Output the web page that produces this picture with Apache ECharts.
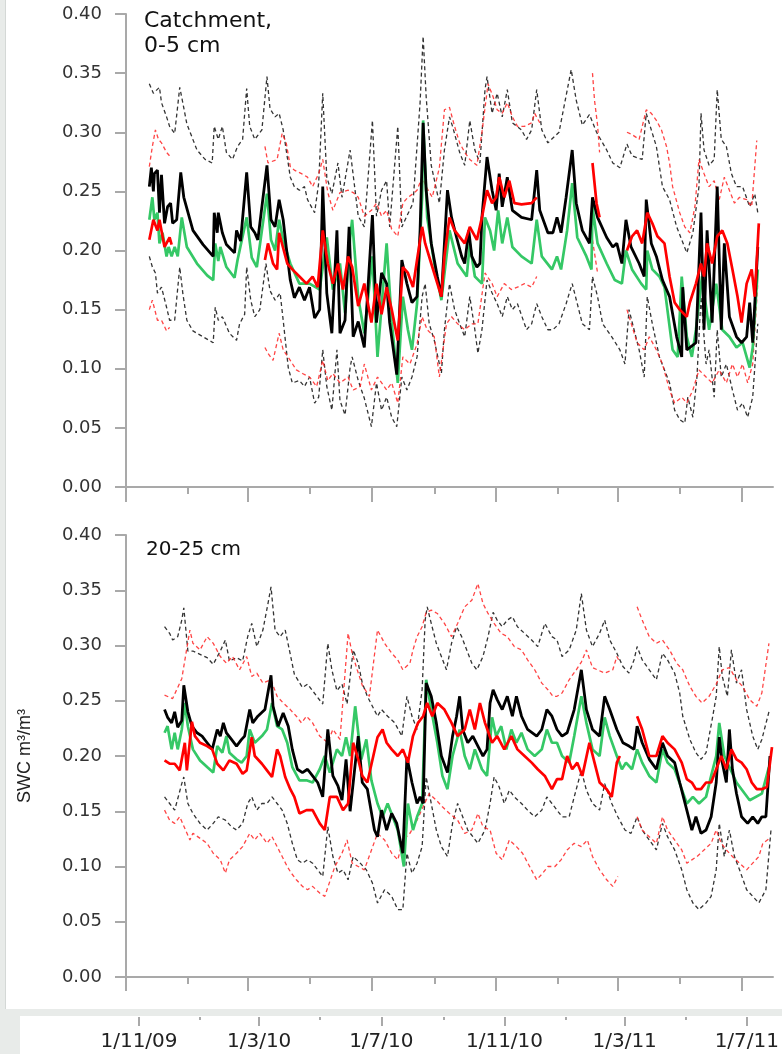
<!DOCTYPE html>
<html><head><meta charset="utf-8">
<script src="https://cdn.jsdelivr.net/npm/echarts@6/dist/echarts.min.js"></script>
<style>
html,body{margin:0;padding:0;background:#e8ebe9;width:782px;height:1054px;overflow:hidden}
#main-bg{position:absolute;left:5px;top:0;width:777px;height:1009px;background:#fff;border-left:1px solid #d4d8d6}
#strip-bg{position:absolute;left:20px;top:1016px;width:762px;height:38px;background:#fff}
#chart{position:absolute;left:0;top:0;width:782px;height:1054px}
</style></head><body>
<div id="main-bg"></div><div id="strip-bg"></div><div id="chart"></div>
<script>
// ---------- axis definitions ----------
const DAY = 86400000;
const T0 = Date.UTC(2009, 10, 1);     // 1/11/09 (day 0)
const TMAX = Date.UTC(2011, 7, 1);    // 1/8/11
const tickMonths = [[2009,11],[2010,1],[2010,3],[2010,5],[2010,7],[2010,9],[2010,11],[2011,1],[2011,3],[2011,5],[2011,7]];
const labelMonths = [[2009,11],[2010,3],[2010,7],[2010,11],[2011,3],[2011,7]];
const yMin = 0, yMax = 0.4, yStep = 0.05;
const panelTitles = ['Catchment,\n0-5 cm', '20-25 cm'];
const yName = 'SWC m³/m³';

// ---------- data: [day since 1/11/09, SWC] ----------
const topBlack = [[23,.254],[25,.270],[27,.250],[28,.265],[31,.268],[33,.232],[35,.264],[38,.223],[41,.237],[44,.240],[46,.223],[50,.226],[54,.266],[57,.245],[66,.217],[76,.205],[86,.195],[87,.232],[90,.215],[91,.232],[95,.215],[99,.205],[107,.198],[109,.217],[113,.208],[119,.266],[123,.220],[127,.215],[130,.209],[139,.272],[143,.226],[147,.220],[151,.243],[155,.226],[158,.203],[162,.175],[166,.160],[171,.169],[176,.158],[181,.169],[186,.143],[191,.150],[194,.254],[198,.164],[203,.130],[208,.217],[211,.130],[216,.141],[220,.220],[224,.127],[229,.140],[235,.118],[243,.230],[247,.139],[252,.181],[257,.172],[260,.139],[267,.095],[272,.192],[277,.172],[282,.156],[287,.161],[290,.217],[293,.308],[296,.251],[301,.206],[307,.178],[311,.161],[314,.206],[317,.251],[321,.228],[326,.211],[331,.195],[334,.189],[338,.217],[341,.195],[346,.186],[349,.189],[351,.228],[356,.279],[361,.251],[365,.234],[368,.265],[371,.237],[376,.262],[381,.234],[390,.228],[400,.226],[405,.268],[408,.234],[416,.215],[421,.215],[425,.228],[429,.215],[434,.245],[440,.285],[444,.240],[450,.217],[457,.206],[460,.245],[465,.228],[474,.211],[480,.203],[484,.206],[489,.189],[493,.226],[498,.203],[506,.189],[511,.178],[513,.243],[518,.206],[523,.195],[529,.175],[536,.161],[543,.127],[548,.110],[549,.169],[553,.116],[562,.122],[567,.232],[570,.133],[573,.217],[578,.139],[583,.254],[587,.133],[590,.206],[595,.144],[602,.127],[607,.122],[612,.127],[615,.156],[618,.122],[623,.203]];
const topGreen = [[23,.226],[26,.245],[28,.226],[31,.232],[33,.206],[36,.215],[40,.195],[42,.203],[45,.195],[48,.203],[51,.195],[55,.228],[60,.203],[70,.189],[80,.179],[86,.175],[88,.206],[91,.191],[93,.203],[99,.186],[107,.177],[110,.192],[119,.228],[124,.194],[129,.186],[139,.248],[143,.209],[147,.200],[151,.226],[155,.209],[162,.189],[171,.172],[181,.172],[191,.167],[198,.211],[204,.167],[211,.189],[216,.147],[221,.211],[223,.226],[229,.160],[235,.130],[243,.195],[248,.110],[257,.206],[262,.140],[268,.088],[273,.161],[278,.133],[282,.116],[287,.155],[292,.245],[293,.310],[297,.228],[304,.189],[311,.158],[316,.195],[319,.217],[327,.189],[336,.178],[339,.206],[344,.178],[351,.172],[354,.228],[359,.217],[363,.200],[367,.234],[371,.206],[376,.228],[381,.203],[390,.195],[400,.189],[405,.226],[410,.195],[420,.184],[425,.195],[429,.184],[435,.217],[440,.257],[445,.211],[454,.195],[459,.184],[460,.237],[465,.206],[474,.189],[482,.175],[489,.172],[493,.200],[499,.184],[508,.172],[513,.167],[514,.200],[519,.184],[526,.178],[531,.169],[539,.116],[544,.110],[548,.178],[553,.127],[558,.110],[562,.133],[568,.178],[575,.133],[582,.172],[588,.133],[595,.127],[602,.118],[608,.122],[615,.101],[618,.118],[623,.184]];
const topRed = [[23,.209],[27,.226],[31,.217],[33,.226],[38,.203],[43,.211],[45,.205],[90,null],[137,.192],[140,.206],[145,.189],[149,.184],[151,.215],[159,.189],[164,.184],[171,.178],[178,.172],[184,.178],[189,.169],[194,.217],[199,.189],[204,.172],[209,.189],[214,.167],[219,.195],[223,.186],[229,.153],[235,.172],[242,.139],[247,.172],[252,.146],[257,.169],[262,.150],[268,.124],[273,.186],[278,.181],[283,.169],[287,.192],[292,.220],[295,.206],[301,.189],[311,.161],[314,.195],[319,.228],[324,.217],[334,.206],[339,.220],[346,.209],[351,.228],[356,.251],[361,.240],[365,.245],[368,.262],[373,.245],[378,.259],[383,.240],[390,.239],[400,.240],[405,.245],[430,null],[460,.274],[464,.240],[467,.228],[480,null],[494,.200],[499,.212],[504,.217],[509,.206],[514,.232],[519,.223],[524,.212],[531,.206],[536,.178],[541,.156],[546,.150],[553,.144],[556,.156],[562,.172],[567,.189],[570,.178],[573,.206],[578,.189],[583,.212],[588,.217],[593,.206],[598,.184],[603,.161],[607,.139],[612,.172],[617,.184],[620,.161],[624,.223]];
const topBlackUp = [[23,.341],[27,.333],[33,.338],[35,.325],[40,.313],[43,.305],[48,.299],[53,.338],[56,.325],[60,.307],[70,.285],[78,.277],[85,.274],[87,.305],[91,.294],[95,.305],[99,.283],[105,.277],[110,.288],[115,.294],[119,.337],[122,.305],[127,.294],[134,.302],[139,.347],[142,.320],[147,.313],[151,.316],[155,.302],[162,.262],[166,.254],[171,.251],[176,.254],[179,.243],[186,.232],[190,.257],[194,.333],[198,.262],[203,.248],[209,.274],[213,.245],[221,.285],[229,.229],[235,.220],[243,.310],[247,.229],[252,.251],[257,.259],[260,.220],[268,.305],[272,.220],[278,.231],[283,.240],[290,.325],[293,.381],[296,.330],[301,.272],[309,.240],[314,.285],[319,.313],[322,.305],[329,.283],[334,.272],[339,.310],[344,.285],[349,.274],[354,.336],[356,.347],[361,.316],[366,.333],[371,.313],[376,.336],[381,.308],[390,.302],[395,.294],[400,.302],[405,.336],[410,.302],[416,.291],[427,.300],[439,.353],[444,.327],[450,.306],[457,.315],[464,.300],[474,.285],[480,.274],[487,.270],[494,.290],[499,.280],[509,.277],[513,.316],[518,.302],[523,.288],[529,.254],[536,.243],[543,.220],[548,.209],[553,.198],[559,.215],[565,.254],[567,.316],[570,.285],[575,.272],[580,.277],[583,.336],[587,.294],[592,.288],[597,.265],[602,.254],[608,.254],[615,.237],[620,.248],[623,.232]];
const topBlackLo = [[23,.195],[26,.186],[29,.181],[31,.164],[35,.169],[40,.152],[43,.141],[48,.141],[53,.186],[56,.164],[60,.141],[66,.132],[76,.127],[86,.122],[88,.152],[91,.141],[95,.144],[102,.130],[109,.124],[112,.138],[117,.146],[119,.186],[123,.158],[127,.144],[132,.150],[138,.189],[142,.166],[147,.158],[152,.164],[155,.141],[160,.101],[164,.088],[171,.090],[176,.085],[181,.093],[186,.071],[190,.076],[194,.116],[198,.085],[203,.065],[208,.116],[211,.073],[216,.061],[221,.101],[223,.110],[229,.090],[235,.075],[242,.051],[247,.088],[252,.065],[257,.076],[262,.059],[267,.051],[272,.093],[277,.082],[282,.093],[287,.110],[292,.161],[295,.172],[299,.138],[304,.124],[311,.096],[314,.133],[319,.172],[324,.150],[329,.138],[334,.127],[339,.161],[344,.133],[347,.113],[351,.133],[356,.175],[361,.164],[366,.155],[371,.144],[376,.161],[381,.150],[386,.155],[395,.133],[400,.138],[405,.155],[410,.144],[416,.133],[421,.133],[427,.138],[434,.155],[440,.172],[445,.155],[450,.138],[457,.133],[460,.178],[465,.161],[470,.138],[479,.127],[487,.116],[492,.104],[496,.150],[501,.133],[506,.116],[511,.093],[514,.161],[519,.138],[526,.110],[531,.099],[536,.088],[541,.065],[546,.057],[551,.054],[554,.076],[559,.059],[563,.093],[567,.161],[572,.104],[575,.116],[580,.076],[583,.133],[587,.093],[592,.104],[598,.082],[603,.065],[608,.071],[613,.059],[618,.076],[623,.138]];
const topRedUp = [[23,.271],[26,.288],[29,.302],[32,.294],[35,.291],[40,.283],[43,.280],[90,null],[137,.288],[140,.274],[149,.277],[154,.299],[158,.291],[162,.271],[166,.268],[173,.265],[179,.262],[184,.254],[190,.265],[194,.277],[199,.249],[204,.234],[211,.249],[219,.251],[224,.249],[229,.245],[235,.229],[242,.234],[247,.240],[252,.229],[257,.234],[262,.218],[268,.212],[273,.240],[278,.245],[283,.248],[287,.251],[292,.262],[296,.254],[302,.245],[309,.270],[314,.319],[319,.321],[324,.305],[329,.291],[334,.283],[339,.277],[346,.272],[351,.300],[357,.341],[362,.330],[366,.319],[371,.316],[376,.325],[381,.313],[386,.305],[393,.305],[400,.308],[403,.316],[408,.308],[430,null],[460,.350],[462,.327],[465,.306],[467,.283],[480,null],[494,.300],[499,.298],[506,.294],[513,.319],[518,.316],[523,.310],[528,.302],[533,.288],[536,.274],[539,.254],[546,.232],[551,.220],[556,.215],[561,.237],[565,.277],[570,.265],[575,.254],[580,.259],[585,.243],[590,.262],[595,.251],[600,.240],[605,.245],[612,.243],[617,.237],[622,.293]];
const topRedLo = [[23,.150],[26,.158],[31,.141],[35,.141],[40,.132],[43,.135],[90,null],[137,.118],[140,.113],[145,.107],[151,.130],[155,.116],[162,.107],[168,.099],[174,.096],[181,.093],[188,.085],[194,.107],[199,.090],[204,.096],[211,.088],[219,.093],[224,.082],[231,.085],[235,.104],[242,.082],[248,.093],[257,.082],[262,.088],[268,.071],[273,.110],[280,.104],[287,.121],[292,.144],[297,.133],[304,.127],[309,.093],[316,.138],[321,.144],[327,.138],[334,.133],[341,.138],[347,.138],[354,.181],[361,.172],[366,.161],[373,.172],[380,.167],[386,.169],[393,.172],[400,.169],[405,.178],[430,null],[460,.209],[465,.181],[480,null],[494,.150],[504,.122],[511,.116],[516,.127],[523,.116],[529,.104],[536,.082],[541,.071],[548,.076],[553,.071],[559,.082],[565,.099],[572,.093],[578,.088],[585,.099],[592,.088],[598,.104],[603,.093],[608,.104],[613,.088],[618,.104],[623,.172]];

const botBlack = [[38,.242],[41,.235],[45,.230],[48,.240],[51,.226],[55,.232],[57,.264],[61,.240],[65,.227],[70,.221],[75,.218],[80,.212],[85,.206],[90,.224],[93,.218],[96,.230],[99,.221],[104,.215],[109,.209],[114,.215],[117,.218],[122,.242],[125,.230],[130,.236],[137,.242],[143,.273],[145,.245],[150,.227],[155,.239],[160,.227],[164,.206],[169,.188],[174,.185],[179,.188],[184,.182],[189,.176],[194,.163],[199,.224],[204,.182],[209,.173],[213,.160],[217,.197],[221,.150],[229,.218],[233,.176],[238,.170],[245,.133],[248,.127],[252,.151],[257,.133],[262,.148],[267,.139],[273,.112],[277,.199],[282,.176],[287,.157],[290,.163],[293,.157],[296,.266],[301,.254],[306,.230],[311,.200],[317,.185],[322,.218],[326,.236],[329,.254],[332,.224],[337,.212],[342,.218],[347,.209],[352,.200],[356,.206],[359,.248],[362,.260],[366,.251],[371,.242],[376,.254],[381,.236],[385,.254],[390,.236],[396,.224],[405,.218],[410,.224],[415,.242],[420,.236],[425,.224],[430,.218],[435,.221],[442,.242],[449,.278],[454,.242],[460,.224],[467,.218],[472,.254],[477,.242],[484,.224],[490,.212],[496,.209],[501,.206],[504,.227],[509,.212],[516,.197],[523,.188],[529,.212],[534,.200],[541,.194],[546,.176],[553,.151],[558,.133],[562,.145],[567,.130],[572,.133],[577,.145],[582,.176],[585,.217],[588,.194],[592,.176],[595,.224],[598,.188],[602,.166],[607,.145],[613,.139],[618,.145],[623,.139],[627,.145],[631,.145],[635,.200]];
const botGreen = [[38,.221],[41,.227],[45,.206],[48,.221],[51,.206],[55,.224],[58,.248],[61,.227],[66,.206],[73,.196],[80,.190],[86,.185],[90,.209],[95,.203],[99,.218],[102,.203],[109,.197],[114,.194],[119,.200],[122,.224],[127,.212],[134,.218],[139,.224],[144,.248],[149,.227],[154,.224],[159,.212],[164,.190],[171,.178],[178,.178],[184,.176],[191,.188],[196,.200],[201,.185],[208,.206],[213,.200],[217,.217],[221,.200],[226,.245],[232,.197],[237,.215],[242,.178],[248,.157],[253,.145],[258,.157],[263,.145],[268,.133],[274,.100],[278,.157],[283,.133],[287,.145],[292,.157],[296,.269],[301,.242],[307,.212],[312,.182],[317,.170],[322,.200],[329,.224],[334,.200],[339,.188],[344,.206],[351,.188],[356,.182],[361,.235],[365,.218],[370,.227],[375,.206],[380,.224],[385,.212],[390,.221],[396,.206],[403,.200],[410,.206],[415,.224],[420,.212],[425,.212],[430,.200],[437,.194],[442,.218],[449,.254],[454,.230],[460,.206],[467,.200],[472,.235],[477,.218],[484,.200],[489,.188],[493,.194],[499,.188],[504,.206],[509,.194],[516,.182],[523,.176],[529,.206],[534,.194],[541,.188],[548,.170],[553,.157],[559,.163],[565,.157],[572,.163],[577,.182],[582,.200],[585,.230],[590,.200],[602,.176],[615,.160],[627,.166],[634,.190]];
const botRed = [[38,.196],[43,.193],[48,.193],[53,.187],[58,.212],[60,.187],[65,.231],[68,.218],[73,.212],[80,.209],[85,.206],[90,.193],[96,.187],[102,.196],[109,.193],[115,.184],[119,.187],[124,.217],[127,.200],[134,.193],[139,.187],[144,.181],[149,.206],[152,.200],[157,.181],[162,.170],[166,.163],[171,.148],[178,.151],[184,.151],[191,.139],[196,.133],[201,.163],[208,.163],[214,.151],[219,.157],[224,.212],[229,.197],[233,.182],[238,.176],[248,.217],[253,.224],[257,.212],[262,.206],[268,.200],[273,.206],[278,.194],[283,.218],[288,.230],[293,.236],[297,.248],[302,.236],[307,.248],[314,.242],[321,.230],[327,.218],[334,.224],[339,.242],[344,.224],[349,.248],[354,.230],[361,.212],[366,.218],[373,.206],[380,.218],[386,.206],[393,.200],[400,.194],[406,.188],[413,.182],[420,.170],[425,.179],[430,.179],[435,.200],[440,.188],[445,.194],[450,.182],[457,.212],[462,.194],[467,.176],[474,.170],[479,.163],[484,.194],[487,.200],[495,null],[504,.236],[509,.224],[516,.200],[523,.200],[529,.218],[534,.212],[541,.206],[548,.194],[553,.179],[558,.176],[562,.170],[567,.170],[572,.176],[577,.176],[582,.188],[587,.200],[592,.188],[597,.206],[602,.197],[607,.194],[612,.188],[617,.176],[622,.170],[627,.170],[632,.172],[637,.208]];
const botBlackUp = [[38,.317],[43,.311],[46,.305],[51,.308],[55,.323],[57,.334],[61,.295],[66,.295],[73,.292],[80,.289],[86,.283],[93,.295],[98,.305],[102,.286],[109,.289],[115,.286],[120,.308],[124,.320],[129,.299],[135,.314],[140,.338],[143,.353],[147,.314],[152,.308],[157,.314],[162,.292],[166,.274],[174,.262],[179,.265],[184,.259],[189,.253],[194,.247],[199,.302],[203,.278],[208,.259],[213,.265],[218,.247],[224,.296],[229,.284],[233,.266],[238,.254],[248,.236],[252,.242],[258,.236],[265,.230],[272,.218],[277,.254],[282,.236],[287,.224],[292,.260],[295,.323],[297,.335],[301,.320],[306,.302],[311,.290],[316,.278],[321,.302],[326,.317],[331,.308],[336,.296],[341,.284],[346,.278],[352,.290],[357,.308],[362,.330],[366,.323],[371,.317],[376,.323],[381,.326],[386,.317],[393,.311],[400,.305],[406,.299],[413,.320],[420,.308],[425,.305],[430,.290],[437,.296],[444,.314],[449,.347],[454,.314],[460,.299],[467,.311],[472,.323],[477,.305],[484,.293],[490,.281],[496,.275],[501,.287],[504,.299],[509,.287],[516,.278],[523,.269],[529,.293],[534,.287],[541,.275],[546,.257],[549,.236],[556,.215],[562,.203],[567,.197],[572,.203],[578,.233],[582,.254],[585,.299],[588,.272],[593,.254],[597,.296],[602,.266],[607,.278],[612,.242],[618,.218],[623,.206],[627,.215],[634,.240]];
const botBlackLo = [[38,.163],[43,.157],[48,.151],[55,.175],[57,.181],[61,.157],[66,.148],[73,.139],[80,.133],[86,.139],[91,.145],[98,.142],[104,.136],[109,.133],[115,.139],[120,.157],[124,.163],[129,.151],[134,.157],[139,.157],[144,.163],[149,.157],[154,.151],[159,.139],[164,.121],[169,.106],[174,.103],[179,.106],[184,.103],[189,.097],[194,.091],[199,.136],[204,.109],[209,.094],[214,.097],[219,.088],[224,.109],[231,.103],[237,.097],[243,.085],[248,.067],[255,.079],[262,.073],[268,.061],[273,.061],[277,.112],[282,.094],[287,.103],[292,.118],[296,.181],[301,.157],[306,.133],[311,.118],[317,.109],[322,.139],[327,.157],[332,.145],[337,.133],[342,.127],[347,.121],[354,.133],[359,.157],[363,.181],[368,.172],[373,.157],[378,.169],[383,.163],[390,.157],[396,.151],[403,.145],[410,.151],[415,.163],[420,.157],[425,.151],[430,.145],[437,.145],[442,.163],[449,.187],[454,.169],[460,.157],[467,.151],[472,.175],[479,.157],[485,.145],[492,.133],[498,.130],[504,.145],[509,.133],[516,.124],[523,.115],[529,.139],[534,.127],[541,.115],[548,.097],[553,.079],[559,.067],[565,.061],[572,.067],[577,.073],[582,.097],[585,.139],[590,.109],[595,.133],[600,.109],[605,.097],[612,.079],[618,.073],[624,.067],[631,.079],[636,.133]];
const botRedUp = [[38,.255],[46,.252],[55,.270],[63,.314],[66,.302],[73,.296],[80,.308],[86,.302],[93,.290],[99,.284],[105,.290],[112,.278],[119,.290],[124,.272],[129,.275],[135,.266],[143,.269],[149,.254],[155,.248],[162,.242],[168,.236],[173,.230],[178,.236],[184,.230],[191,.218],[199,.212],[204,.224],[211,.215],[219,.311],[223,.293],[228,.278],[233,.264],[240,.254],[248,.314],[255,.302],[262,.293],[268,.287],[273,.278],[280,.284],[283,.296],[287,.308],[292,.317],[296,.330],[301,.332],[307,.329],[314,.320],[321,.308],[327,.320],[334,.335],[341,.341],[347,.356],[352,.338],[357,.329],[363,.320],[370,.311],[376,.308],[383,.299],[390,.296],[396,.287],[403,.278],[410,.266],[416,.260],[421,.254],[425,.254],[430,.257],[437,.269],[444,.278],[449,.285],[454,.296],[460,.280],[472,.275],[480,.278],[484,.290],[487,.285],[495,null],[504,.335],[509,.323],[516,.308],[523,.302],[529,.305],[536,.296],[543,.284],[549,.278],[556,.263],[562,.254],[568,.248],[575,.254],[582,.265],[588,.278],[595,.280],[602,.269],[608,.263],[615,.251],[622,.245],[627,.257],[634,.302]];
const botRedLo = [[38,.151],[43,.142],[48,.139],[53,.145],[63,.124],[66,.130],[80,.121],[86,.112],[93,.106],[98,.094],[102,.106],[109,.112],[115,.118],[122,.130],[127,.124],[132,.130],[139,.121],[144,.127],[149,.118],[154,.109],[159,.100],[163,.094],[168,.088],[174,.082],[179,.079],[184,.082],[191,.076],[196,.073],[206,.100],[213,.112],[218,.124],[223,.103],[229,.100],[235,.097],[248,.130],[255,.124],[262,.112],[268,.106],[273,.124],[280,.130],[287,.142],[293,.154],[299,.166],[306,.160],[312,.154],[319,.148],[327,.142],[334,.130],[341,.133],[347,.148],[352,.136],[359,.133],[365,.112],[371,.106],[378,.124],[385,.118],[391,.112],[398,.100],[405,.088],[411,.094],[416,.100],[423,.100],[429,.106],[435,.115],[442,.121],[449,.118],[455,.124],[460,.109],[467,.097],[474,.088],[480,.082],[485,.091],[495,null],[504,.145],[509,.133],[516,.127],[523,.121],[529,.145],[534,.133],[541,.124],[548,.115],[553,.103],[558,.106],[563,.109],[570,.115],[577,.121],[582,.133],[587,.121],[592,.115],[598,.109],[605,.103],[612,.097],[618,.103],[624,.109],[628,.121],[634,.125]];

// ---------- build ----------
const mts = ([y, m]) => Date.UTC(y, m - 1, 1);
const tickVals = tickMonths.map(mts);
const labelVals = labelMonths.map(mts);
const pts = arr => arr.map(([d, v]) => [T0 + d * DAY, v]);
const fmtDate = v => { const d = new Date(v); return d.getUTCDate() + '/' + (d.getUTCMonth() + 1) + '/' + String(d.getUTCFullYear()).slice(2); };

const AX = '#a9a9a9';
const AXW = 2;
const FONT = 'DejaVu Sans';
const C = { black: '#000000', red: '#ff0000', green: '#35c866', dBlack: 'rgba(15,15,15,0.85)', dRed: 'rgba(255,35,35,0.85)' };

function xAxisPair(gi, longLen) {
  return [
    { gridIndex: gi, type: 'value', position: 'bottom', min: T0, max: TMAX,
      axisLine: { show: true, lineStyle: { color: AX, width: AXW } },
      axisTick: { show: true, length: 7, customValues: tickVals, lineStyle: { color: AX, width: AXW } },
      axisLabel: { show: false }, splitLine: { show: false } },
    { gridIndex: gi, type: 'value', position: 'bottom', min: T0, max: TMAX,
      axisLine: { show: false },
      axisTick: { show: true, length: longLen, customValues: labelVals, lineStyle: { color: AX, width: AXW } },
      axisLabel: { show: false }, splitLine: { show: false } }
  ];
}
function yAxisDef(gi, extra) {
  return Object.assign({ gridIndex: gi, type: 'value', position: 'left', min: yMin, max: yMax, interval: yStep,
    axisLine: { show: true, lineStyle: { color: AX, width: AXW } },
    axisTick: { show: true, length: 11, lineStyle: { color: AX, width: AXW } },
    axisLabel: { margin: 24, fontSize: 18, fontFamily: FONT, color: '#333', formatter: v => v.toFixed(2) },
    splitLine: { show: false } }, extra || {});
}
function line(data, xi, yi, color, width, dashed, z) {
  return { type: 'line', data: pts(data), xAxisIndex: xi, yAxisIndex: yi, showSymbol: false, symbol: 'none',
    connectNulls: false, z: z, lineStyle: { color: color, width: width, type: dashed ? [4, 3] : 'solid' } };
}

const option = {
  animation: false,
  backgroundColor: 'transparent',
  title: [
    { text: panelTitles[0], left: 139, top: 4, textStyle: { fontSize: 22, fontWeight: 'normal', fontFamily: FONT, color: '#111', lineHeight: 25 } },
    { text: panelTitles[1], left: 141, top: 535, textStyle: { fontSize: 20, fontWeight: 'normal', fontFamily: FONT, color: '#111' } }
  ],
  grid: [
    { left: 126, top: 14, width: 647, height: 473 },
    { left: 126, top: 535, width: 647, height: 442 },
    { left: 139, top: 1016, width: 640, height: 1 }
  ],
  xAxis: [
    ...xAxisPair(0, 15),
    ...xAxisPair(1, 14),
    { gridIndex: 2, type: 'value', position: 'bottom', min: T0, max: TMAX,
      axisLine: { show: false },
      axisTick: { show: true, length: 9, customValues: labelVals, lineStyle: { color: AX, width: AXW } },
      axisLabel: { show: true, customValues: labelVals, formatter: fmtDate, margin: 15, fontSize: 20, fontFamily: FONT, color: '#222' },
      splitLine: { show: false } },
    { gridIndex: 2, type: 'value', position: 'bottom', min: T0, max: TMAX,
      axisLine: { show: false },
      axisTick: { show: true, length: 3, customValues: tickVals, lineStyle: { color: AX, width: AXW } },
      axisLabel: { show: false }, splitLine: { show: false } }
  ],
  yAxis: [
    yAxisDef(0),
    yAxisDef(1, { name: yName, nameLocation: 'middle', nameRotate: 90, nameGap: 92,
      nameTextStyle: { fontSize: 18, fontFamily: 'Liberation Sans', color: '#222' } }),
    { gridIndex: 2, type: 'value', show: false, min: 0, max: 1 }
  ],
  series: [
    line(topBlackUp, 0, 0, C.dBlack, 1.3, true, 2),
    line(topBlackLo, 0, 0, C.dBlack, 1.3, true, 2),
    line(topRedUp, 0, 0, C.dRed, 1.3, true, 2),
    line(topRedLo, 0, 0, C.dRed, 1.3, true, 2),
    line(topGreen, 0, 0, C.green, 2.7, false, 3),
    line(topBlack, 0, 0, C.black, 2.8, false, 4),
    line(topRed, 0, 0, C.red, 2.7, false, 5),
    line(botBlackUp, 2, 1, C.dBlack, 1.3, true, 2),
    line(botBlackLo, 2, 1, C.dBlack, 1.3, true, 2),
    line(botRedUp, 2, 1, C.dRed, 1.3, true, 2),
    line(botRedLo, 2, 1, C.dRed, 1.3, true, 2),
    line(botGreen, 2, 1, C.green, 2.7, false, 3),
    line(botBlack, 2, 1, C.black, 2.8, false, 4),
    line(botRed, 2, 1, C.red, 2.7, false, 5)
  ]
};
const chart = echarts.init(document.getElementById('chart'), null, { renderer: 'canvas' });
chart.setOption(option);
</script></body></html>
